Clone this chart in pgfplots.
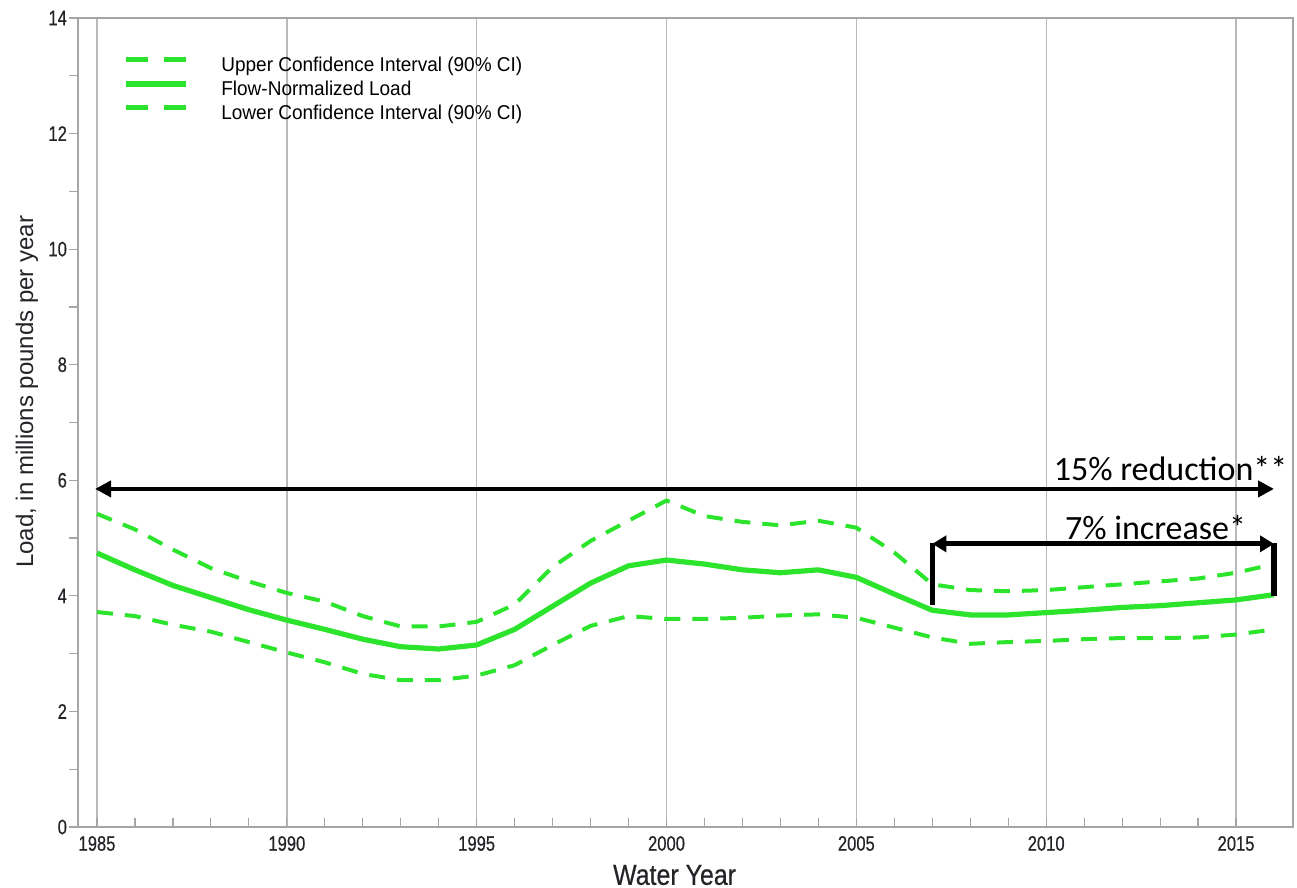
\documentclass[border=0pt]{standalone}
\usepackage{pgfplots}
\pgfplotsset{compat=1.18}
\usepackage{pgfplotstable}
\usepackage{fontspec}
\setmainfont{Liberation Sans}
\newfontfamily\tickfont[FakeStretch=0.79,FakeBold=0.5]{Liberation Sans}
\newfontfamily\xlabfont[FakeStretch=0.86,FakeBold=0.5]{Liberation Sans}
\newfontfamily\legfont[FakeStretch=0.95]{Liberation Sans}
\newfontfamily\calib{Carlito}
\usetikzlibrary{arrows.meta}
\definecolor{lgreen}{RGB}{45,228,45}
\definecolor{gridgray}{RGB}{185,185,185}
\definecolor{framegray}{RGB}{165,165,165}
\definecolor{txt}{RGB}{35,35,40}

\pgfplotstableread{
year upper load lower
1985 5.42 4.74 3.72
1986 5.15 4.45 3.65
1987 4.80 4.18 3.50
1988 4.48 3.97 3.38
1989 4.25 3.76 3.20
1990 4.05 3.58 3.02
1991 3.90 3.42 2.85
1992 3.65 3.25 2.65
1993 3.47 3.12 2.54
1994 3.47 3.08 2.54
1995 3.55 3.15 2.62
1996 3.85 3.42 2.80
1997 4.50 3.82 3.15
1998 4.95 4.22 3.48
1999 5.30 4.52 3.65
2000 5.65 4.62 3.60
2001 5.38 4.55 3.60
2002 5.28 4.45 3.62
2003 5.22 4.40 3.66
2004 5.30 4.45 3.68
2005 5.18 4.32 3.62
2006 4.75 4.03 3.45
2007 4.20 3.75 3.28
2008 4.10 3.67 3.17
2009 4.08 3.67 3.20
2010 4.10 3.71 3.22
2011 4.15 3.75 3.25
2012 4.20 3.80 3.27
2013 4.25 3.83 3.27
2014 4.30 3.88 3.28
2015 4.40 3.93 3.33
2016 4.55 4.02 3.42
}\datatable

\begin{document}
\begin{tikzpicture}
\begin{axis}[
  name=ax,
  scale only axis,
  width=607.5pt, height=404.5pt,
  xmin=1984.5, xmax=2016.5, ymin=0, ymax=14,
  clip=false,
  xtick={1985,1990,1995,2000,2005,2010,2015},
  xticklabels={1985,1990,1995,2000,2005,2010,2015},
  minor x tick num=4,
  ytick={0,2,4,6,8,10,12,14},
  yticklabels={0,2,4,6,8,10,12,14},
  minor y tick num=1,
  xmajorgrids,
  grid style={gridgray, line width=0.7pt},
  axis line style={framegray, line width=0.9pt},
  xtick pos=bottom, ytick pos=left,
  tick align=inside,
  major tick length=4.5pt, minor tick length=4.5pt,
  every tick/.style={framegray, line width=0.6pt},
  major y tick style={xshift=-4.5pt},
  minor y tick style={xshift=-4.5pt},
  xticklabel style={font=\tickfont\fontsize{10.5}{10.5}\selectfont, text=txt, yshift=-1pt},
  yticklabel style={font=\tickfont\fontsize{10.5}{10.5}\selectfont, text=txt, xshift=-2pt},
  xlabel={Water Year},
  xlabel style={font=\xlabfont\fontsize{14.5}{14.5}\selectfont, text=txt, at={(axis description cs:0.491,0)}, anchor=center, yshift=-24pt},
  ylabel={Load, in millions pounds per year},
  ylabel style={font=\fontsize{12}{12}\selectfont, text=txt, at={(axis description cs:-0.042,0.538)}, anchor=center, rotate=0},
  legend style={draw=none, fill=none, at={(axis description cs:0.037,0.954)}, anchor=north west,
    font=\legfont\fontsize{10}{10}\selectfont, inner sep=0pt, column sep=16pt, row sep=2pt,
    nodes={inner sep=0pt, text height=8pt, text depth=2pt}},
  legend cell align=left,
  legend image code/.code={\draw[#1] (0pt,3pt) -- (30pt,3pt);},
]
\addplot[lgreen, line width=2pt, dash pattern=on 8pt off 6pt, line join=round,
  legend image post style={dash pattern=on 11pt off 8pt, line width=2.6pt}] table[x=year, y=upper] {\datatable};
\addlegendentry{Upper Confidence Interval (90\% CI)}
\addplot[lgreen, line width=2.6pt, line join=round,
  legend image post style={line width=3pt}] table[x=year, y=load] {\datatable};
\addlegendentry{Flow-Normalized Load}
\addplot[lgreen, line width=2pt, dash pattern=on 8pt off 6pt, line join=round,
  legend image post style={dash pattern=on 11pt off 8pt, line width=2.6pt}] table[x=year, y=lower] {\datatable};
\addlegendentry{Lower Confidence Interval (90\% CI)}

\draw[line width=2.4pt, {Triangle[length=8pt,width=8pt]}-{Triangle[length=8pt,width=8pt]}] (axis cs:1984.95,5.85) -- (axis cs:2016,5.85);
\draw[line width=2.6pt] (axis cs:2007,3.84) -- (axis cs:2007,4.92);
\draw[line width=2.6pt] (axis cs:2016,4.00) -- (axis cs:2016,4.92);
\draw[line width=2.4pt, {Triangle[length=7pt,width=8pt]}-{Triangle[length=7pt,width=8pt]}] (axis cs:2007,4.90) -- (axis cs:2016,4.90);
\node[anchor=base east, font=\calib\fontsize{17}{17}\selectfont, inner sep=0pt] at (axis cs:2016.36,5.99) {15\% reduction**};
\node[anchor=base, font=\calib\fontsize{17}{17}\selectfont, inner sep=0pt] at (axis cs:2012.88,4.97) {7\% increase*};
\end{axis}
\pgfresetboundingbox
\path ([shift={(-39pt,-30.5pt)}]ax.south west) rectangle ([shift={(2pt,9pt)}]ax.north east);
\end{tikzpicture}
\end{document}
